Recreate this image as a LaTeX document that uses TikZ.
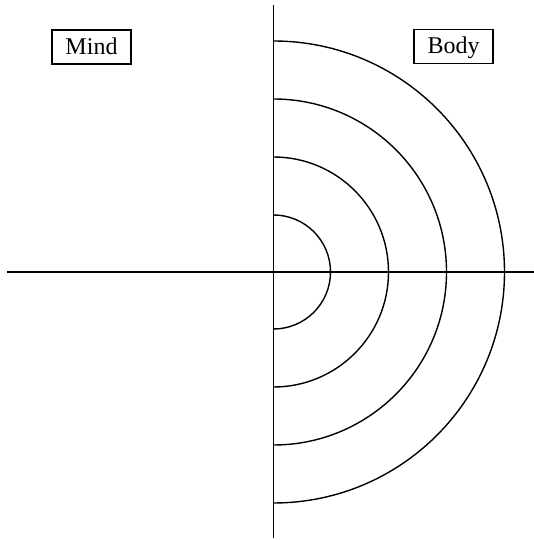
\documentclass[tikz,border=0pt]{standalone}
\usepackage{fontspec}
\setmainfont{Liberation Serif}
\begin{document}
\begin{tikzpicture}[x=1pt,y=1pt,
  labelbox/.style={draw,line width=1.2pt,minimum width=79pt,minimum height=34pt,inner sep=0pt,text height=18pt,text depth=3pt,font=\fontsize{24}{28}\selectfont},
  axis/.style={line width=1.4pt},
  ring/.style={line width=1.4pt}]
\useasboundingbox (0,0) rectangle (534,540);
\coordinate (o) at (273.5,268);
\coordinate (top) at (273.5,535);
\coordinate (bot) at (273.5,2);
\coordinate (lft) at (7,268);
\coordinate (rgt) at (534,268);
\draw[axis] (top) -- (bot);
\draw[axis] (lft) -- (rgt);
\foreach \r in {57,115,173,231}{
  \draw[ring] (o) ++(0,\r) arc[start angle=90,end angle=-90,radius=\r];
}
\node[labelbox] (mind) at (91.5,493) {Mind};
\node[labelbox] (body) at (453.5,493.5) {Body};
\end{tikzpicture}
\end{document}
